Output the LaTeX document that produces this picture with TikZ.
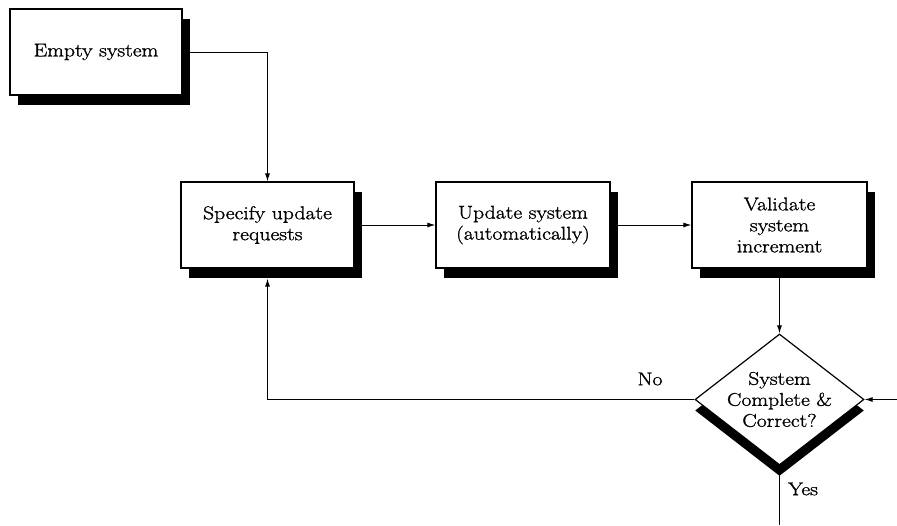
\documentclass[tikz,border=0pt]{standalone}
\usepackage{fontspec}
\setmainfont{Latin Modern Roman}[FakeStretch=1.17, FakeBold=1.3]
\usetikzlibrary{arrows.meta,shapes.geometric,shadows}

\tikzset{
  txt/.style={font=\fontsize{18.5}{21}\selectfont, align=center},
  stepbox/.style={txt, draw, line width=1.2pt, fill=white, inner sep=0pt,
    minimum width=#1, minimum height=86pt,
    drop shadow={shadow xshift=8pt, shadow yshift=-10pt, fill=black, opacity=1}},
  decision/.style={diamond, draw, line width=1.2pt, fill=white, inner sep=0pt,
    minimum width=169pt, minimum height=131pt,
    drop shadow={shadow xshift=0pt, shadow yshift=-11pt, fill=black, opacity=1}},
  flow/.style={line width=1pt, -{Latex[length=8pt,width=5pt]}},
  plain/.style={line width=1pt},
}

\begin{document}
\begin{tikzpicture}[x=1pt,y=-1pt]
  \useasboundingbox (0,0) rectangle (897,525);

  % process boxes
  \node[stepbox=172pt] (empty) at (96,52)    {Empty system};
  \node[stepbox=173pt] (spec)  at (267.5,225) {Specify update\\requests};
  \node[stepbox=174pt] (upd)   at (523,225)   {Update system\\(automatically)};
  \node[stepbox=175pt] (val)   at (779.5,225) {Validate\\system\\increment};

  % decision
  \node[decision] (dec) at (779.5,399.5) {};
  \node[txt] (dectext) at (dec.center) {System\\Complete \&\\Correct?};

  % free ends
  \coordinate (inright) at (897,399.5);
  \coordinate (outdown) at (779.5,525);

  % connectors
  \draw[flow] (empty.east) -| (spec.north);
  \draw[flow] (spec.east) -- (upd.west);
  \draw[flow] (upd.east) -- (val.west);
  \draw[flow] (val.south) -- (dec.north);
  \draw[flow] (dec.west) -| ([yshift=-10pt]spec.south);
  \draw[flow] (inright) -- (dec.east);
  \draw[plain] (dec.south) -- (outdown);

  % branch labels
  \node[txt] (nolbl)  at (650,379) {No};
  \node[txt] (yeslbl) at (803,489) {Yes};
\end{tikzpicture}
\end{document}
